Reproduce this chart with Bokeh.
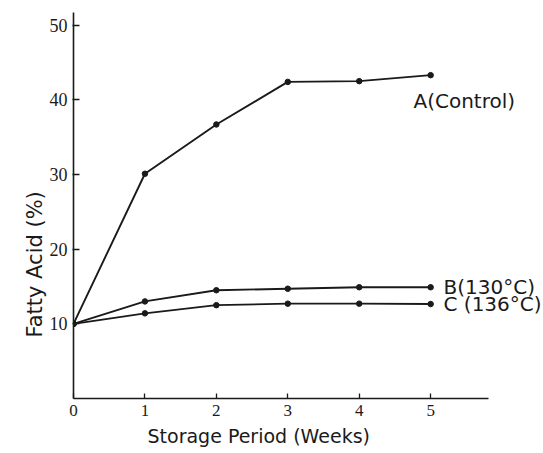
from bokeh.plotting import figure
from bokeh.models import Range1d, FixedTicker, Title
from bokeh.core.properties import value
from bokeh.embed import file_html
from bokeh.resources import INLINE

# ---- data ----
weeks = [0, 1, 2, 3, 4, 5]
control_a = [10.0, 30.1, 36.7, 42.4, 42.5, 43.3]
heat_130_b = [10.0, 13.0, 14.5, 14.7, 14.9, 14.9]
heat_136_c = [10.0, 11.4, 12.5, 12.7, 12.7, 12.65]
x_ticks = [0, 1, 2, 3, 4, 5]
y_ticks = [10, 20, 30, 40, 50]
series_labels = ["A(Control)", "B(130°C)", "C (136°C)"]
x_title = "Storage Period (Weeks)"
y_title = "Fatty Acid (%)"

p = figure(width=543, height=453,
           x_range=Range1d(0, 6.58), y_range=Range1d(0, 53.3),
           output_backend="svg", toolbar_location=None,
           min_border_left=73, min_border_right=0,
           min_border_top=0, min_border_bottom=55)
p.outline_line_color = None
p.xgrid.visible = False
p.ygrid.visible = False
p.background_fill_color = "white"
p.border_fill_color = "white"

ink = "#1a1a1a"

xa = p.xaxis[0]
xa.bounds = (0, 5.81)
xa.ticker = FixedTicker(ticks=x_ticks)
xa.major_tick_in = 5
xa.major_tick_out = 0
xa.minor_tick_line_color = None
xa.axis_line_width = 1.6
xa.axis_line_color = ink
xa.major_tick_line_color = ink
xa.major_tick_line_width = 1.3
xa.major_label_text_font = "Liberation Serif"
xa.major_label_text_font_size = "17px"
xa.major_label_text_color = ink
xa.major_label_standoff = 6

ya = p.yaxis[0]
ya.bounds = (0, 51.7)
ya.ticker = FixedTicker(ticks=y_ticks)
ya.major_tick_in = 6
ya.major_tick_out = 1
ya.minor_tick_line_color = None
ya.axis_line_width = 1.6
ya.axis_line_color = ink
ya.major_tick_line_color = ink
ya.major_tick_line_width = 1.3
ya.major_label_text_font = "Liberation Serif"
ya.major_label_text_font_size = "18px"
ya.major_label_text_color = ink
ya.major_label_standoff = 5

for ys in (control_a, heat_130_b, heat_136_c):
    p.line(weeks, ys, line_color=ink, line_width=1.9)
    p.scatter(weeks, ys, size=5.5, fill_color=ink, line_color=ink)

label_x = [4.76, 5.18, 5.18]
label_y = [39.9, heat_130_b[-1], heat_136_c[-1]]
p.text(x=label_x, y=label_y, text=series_labels,
       text_font=value("DejaVu Sans"), text_font_size="20px",
       text_baseline="middle", text_align="left", text_color=ink)

p.add_layout(Title(text=x_title, align="left", offset=74, standoff=8,
                   text_font="DejaVu Sans", text_font_size="19px",
                   text_font_style="normal", text_color=ink), "below")
p.add_layout(Title(text=y_title, align="left", offset=61, standoff=0,
                   text_font="DejaVu Sans", text_font_size="21px",
                   text_font_style="normal", text_color=ink), "left")

open("out.html", "w").write(file_html(p, INLINE))
